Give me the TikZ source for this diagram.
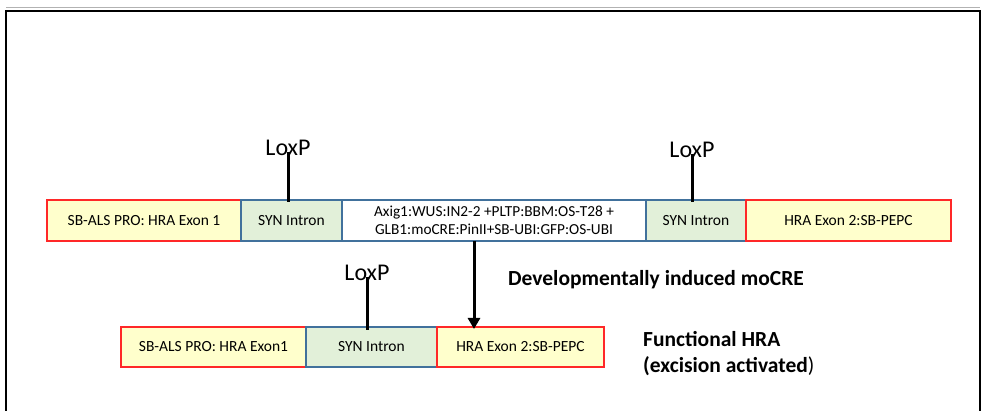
\documentclass[tikz,border=0pt]{standalone}
\usepackage{fontspec}
\setmainfont{Carlito}
\usetikzlibrary{
    arrows.meta,
    positioning
}

\definecolor{exonfill}{RGB}{255,255,204}
\definecolor{exonline}{RGB}{255,40,40}
\definecolor{intronfill}{RGB}{226,240,217}
\definecolor{intronline}{RGB}{65,113,156}

\tikzset{
    part/.style={draw, line width=1.5pt, inner sep=0pt, outer sep=0pt,
        minimum height=41pt, font=\fontsize{15.5}{17}\selectfont},
    exon/.style={part, draw=exonline, fill=exonfill},
    intron/.style={part, draw=intronline, fill=intronfill},
    cargo/.style={part, draw=intronline, fill=white, align=center,
        font=\fontsize{15.3}{17.5}\selectfont},
    loxlabel/.style={font=\fontsize{24}{26}\selectfont, inner sep=0pt},
    loxline/.style={line width=3pt},
    note/.style={font=\fontsize{21.5}{26}\selectfont\bfseries, inner sep=0pt}
}

\begin{document}
\begin{tikzpicture}[x=1pt,y=-1pt]
\useasboundingbox (0,0) rectangle (986,411);

% Frame
\draw[gray!60, line width=1pt] (6,8) -- (980,8);
\draw[line width=2.5pt] (6,411) -- (6,11) -- (980,11) -- (980,411);

% Construct before excision
\node[exon, minimum width=194pt, anchor=west] (exonA) at (47,220.5) {SB-ALS PRO: HRA Exon 1};
\node[intron, minimum width=101pt, right=0pt of exonA] (intronA) {SYN Intron};
\node[cargo, minimum width=304pt, right=0pt of intronA] (cargo)
    {Axig1:WUS:IN2-2 +PLTP:BBM:OS-T28 +\\GLB1:moCRE:PinII+SB-UBI:GFP:OS-UBI};
\node[intron, minimum width=100pt, right=0pt of cargo] (intronB) {SYN Intron};
\node[exon, minimum width=205pt, right=0pt of intronB] (exonB) {HRA Exon 2:SB-PEPC};

% LoxP sites
\node[loxlabel] (loxA) at (288,148) {LoxP};
\node[loxlabel] (loxB) at (692,150) {LoxP};
\draw[loxline] ([yshift=4pt]loxA.south) -- ([yshift=-2pt]loxA.south |- intronA.north);
\draw[loxline] ([yshift=4pt]loxB.south) -- ([yshift=-2pt]loxB.south |- intronB.north);

% Construct after excision
\node[exon, minimum width=185pt, minimum height=40pt, anchor=west] (exonC) at (121,347) {SB-ALS PRO: HRA Exon1};
\node[intron, minimum width=131pt, minimum height=40pt, right=0pt of exonC] (intronC) {SYN Intron};
\node[exon, minimum width=167pt, minimum height=40pt, right=0pt of intronC] (exonD) {HRA Exon 2:SB-PEPC};

\node[loxlabel] (loxC) at (367,273) {LoxP};
\draw[loxline] ([yshift=4pt]loxC.south) -- ([yshift=-3pt]loxC.south |- intronC.north);

% Excision arrow
\coordinate (cut) at ([xshift=-20pt]cargo.south);
\draw[line width=3pt, -{Triangle[length=11pt,width=12pt]}]
    (cut) -- ([yshift=-2pt]cut |- exonD.north);
\node[note, anchor=west] (cre) at (508,280) {Developmentally induced moCRE};

% Result
\node[note, anchor=west, align=left] (result) at (643,354)
    {Functional HRA\\(excision activated\mdseries)};

\end{tikzpicture}
\end{document}
